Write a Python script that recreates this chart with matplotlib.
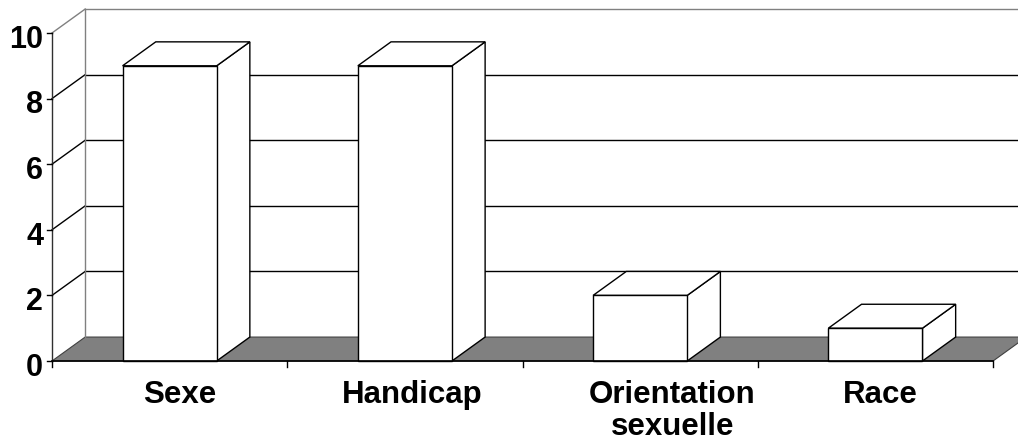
import numpy as np
import matplotlib
matplotlib.use("Agg")
from matplotlib import pyplot as plt
from matplotlib.patches import Polygon

categories = ["Sexe", "Handicap", "Orientation\nsexuelle", "Race"]
values = [9, 9, 2, 1]
y_ticks = [0, 2, 4, 6, 8, 10]

# small shifts of the category labels (category units), as in the original
label_shift = [0.045, 0.03, 0.136, 0.02]

plt.rcParams['font.family'] = ['Liberation Sans', 'DejaVu Sans']

fig = plt.figure(figsize=(10.18, 4.43), dpi=100)
ax = fig.add_axes([0, 0, 1, 1])
ax.set_xlim(-0.721, 3.606)
ax.set_ylim(-2.5, 11.006)
ax.axis('off')

# depth offset of the 3d box, in data units
dx = 0.141
dy = 0.73
x0 = -0.5
x1 = len(categories) - 0.5
ymax = y_ticks[-1]

# floor
floor = Polygon([(x0, 0), (x1, 0), (x1 + dx, dy), (x0 + dx, dy)], closed=True,
                facecolor='#808080', edgecolor='#404040', lw=0.8, zorder=1)
ax.add_patch(floor)

# back wall gridlines and side wall diagonals
for v in y_ticks[1:]:
    col = '#808080' if v == ymax else 'black'
    ax.plot([x0 + dx, x1 + dx + 0.2], [v + dy, v + dy], color=col, lw=1.0, zorder=2)
    ax.plot([x0, x0 + dx], [v, v + dy], color=col, lw=1.0, zorder=2)
ax.plot([x0 + dx, x0 + dx], [dy, ymax + dy], color='#808080', lw=1.0, zorder=2)

# bars
w = 0.4
for i, v in enumerate(values):
    l, r = i - w / 2, i + w / 2
    front = Polygon([(l, 0), (r, 0), (r, v), (l, v)], closed=True,
                    facecolor='white', edgecolor='black', lw=1.0, zorder=5)
    top = Polygon([(l, v), (r, v), (r + dx, v + dy), (l + dx, v + dy)], closed=True,
                  facecolor='white', edgecolor='black', lw=1.0, zorder=5)
    side = Polygon([(r, 0), (r + dx, dy), (r + dx, v + dy), (r, v)], closed=True,
                   facecolor='white', edgecolor='black', lw=1.0, zorder=5)
    ax.add_patch(side)
    ax.add_patch(top)
    ax.add_patch(front)

# front axes
ax.plot([x0, x0], [0, ymax], color='#303030', lw=1.0, zorder=6)
ax.plot([x0, x1], [0, 0], color='black', lw=1.2, zorder=6)
for v in y_ticks:
    ax.plot([x0 - 0.021, x0], [v, v], color='black', lw=1.0, zorder=6)
    ax.text(x0 - 0.038, v - 0.45, str(v), ha='right', va='baseline', fontsize=22,
            fontweight='bold', zorder=7)
for b in np.arange(x0, x1 + 0.01, 1.0):
    ax.plot([b, b], [0, -0.18], color='black', lw=1.0, zorder=6)

for i, name in enumerate(categories):
    ax.text(i + label_shift[i], -0.58, name, ha='center', va='top',
            fontsize=22.5, fontweight='bold', linespacing=1.08, zorder=7)

fig.savefig('out.png', dpi=100)
